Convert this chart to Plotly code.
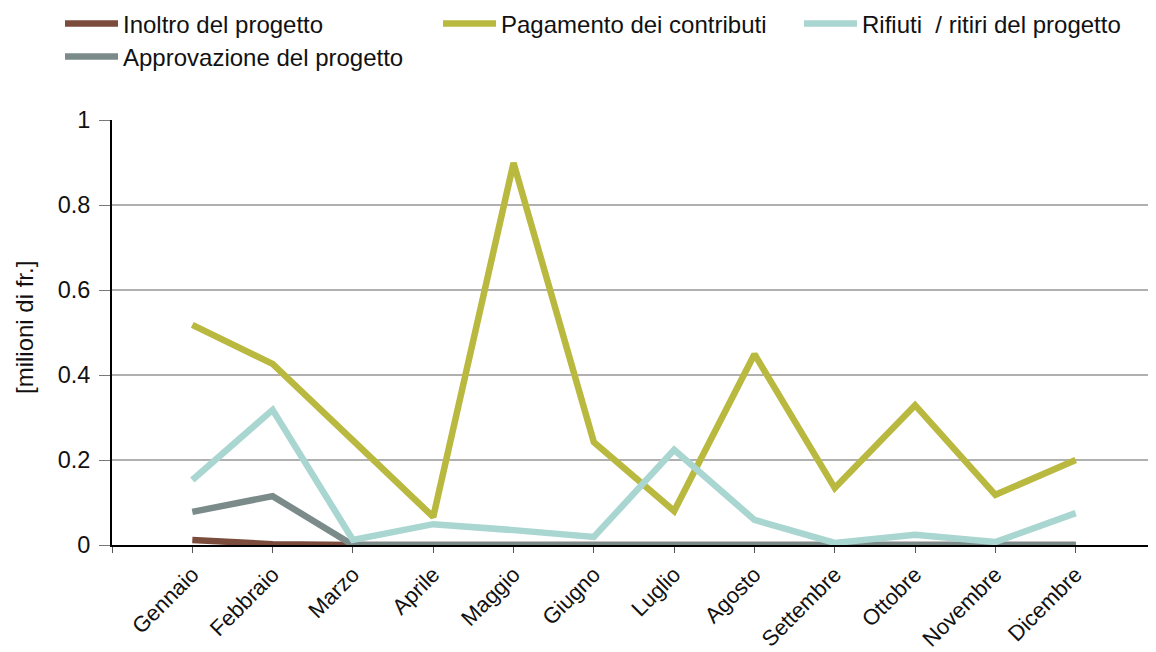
import plotly.graph_objects as go

months = ["Gennaio", "Febbraio", "Marzo", "Aprile", "Maggio", "Giugno",
          "Luglio", "Agosto", "Settembre", "Ottobre", "Novembre", "Dicembre"]
inoltro = [0.012, 0.002, 0, 0, 0, 0, 0, 0, 0, 0, 0, 0]
approvazione = [0.078, 0.115, 0, 0, 0, 0, 0, 0, 0, 0, 0, 0]
pagamento = [0.518, 0.426, 0.246, 0.066, 0.899, 0.242, 0.08, 0.449, 0.134, 0.329, 0.118, 0.2]
rifiuti = [0.153, 0.318, 0.012, 0.049, 0.035, 0.019, 0.224, 0.059, 0.005, 0.024, 0.007, 0.075]
yticks = [0, 0.2, 0.4, 0.6, 0.8, 1]

FONT = "Liberation Sans, Arial, sans-serif"
# page body has an 8px margin: keep figure inside the 1156x652 window
W, H = 1148, 644
OFF = 8
xs = list(range(len(months)))

series = [
    ("Inoltro del progetto", inoltro, "#7b4b3c", "legend"),
    ("Approvazione del progetto", approvazione, "#7a8b8a", "legend4"),
    ("Pagamento dei contributi", pagamento, "#b9b83f", "legend2"),
    ("Rifiuti  / ritiri del progetto", rifiuti, "#a9d6d0", "legend3"),
]

fig = go.Figure()
for name, vals, color, leg in series:
    fig.add_trace(go.Scatter(x=xs, y=vals, mode="lines", name=name,
                             line=dict(color=color, width=6.5),
                             legend=leg))

def legend_at(sx, sy):
    # sx: screen x of legend line start, sy: screen y of item centre
    return dict(orientation="v", x=(sx - OFF - 5) / W, y=1 - (sy - OFF) / H,
                xref="container", yref="container",
                xanchor="left", yanchor="middle", bgcolor="rgba(0,0,0,0)",
                font=dict(size=24, family=FONT, color="#111111"),
                itemwidth=53, tracegroupgap=0)

L, T, B = 112 - OFF, 120 - OFF, 652 - 545

fig.update_layout(
    width=W, height=H,
    margin=dict(l=L, r=0, t=T, b=B, autoexpand=False),
    paper_bgcolor="white", plot_bgcolor="white",
    font=dict(family=FONT, color="#111111", size=23.5),
    legend=legend_at(65, 24),
    legend4=legend_at(65, 57),
    legend2=legend_at(443, 24),
    legend3=legend_at(804, 24),
    showlegend=True,
    annotations=[dict(text="[milioni di fr.]", textangle=-90, showarrow=False,
                      xref="paper", yref="paper",
                      x=(24 - 112) / (W - L), y=(545 - 328) / 425,
                      xanchor="center", yanchor="middle",
                      font=dict(size=24, family=FONT, color="#111111"))],
)
fig.update_yaxes(range=[0, 1], tickvals=yticks, ticktext=["0", "0.2", "0.4", "0.6", "0.8", "1"],
                 showgrid=True, gridcolor="#b0b0b0", gridwidth=2,
                 showline=True, linecolor="black", linewidth=2,
                 ticks="outside", ticklen=11, tickcolor="#777777", tickwidth=1,
                 ticklabelstandoff=4,
                 tickfont=dict(size=23.5, family=FONT), zeroline=False, automargin=False)
fig.update_xaxes(range=[-1, 12], tickvals=[-1] + xs, ticktext=[""] + months,
                 tickangle=-45, showgrid=False, zeroline=False, automargin=False,
                 showline=True, linecolor="black", linewidth=2,
                 ticks="outside", ticklen=6, tickcolor="#555555", tickwidth=1,
                 tickfont=dict(size=22, family=FONT))

fig.write_html("out.html")
